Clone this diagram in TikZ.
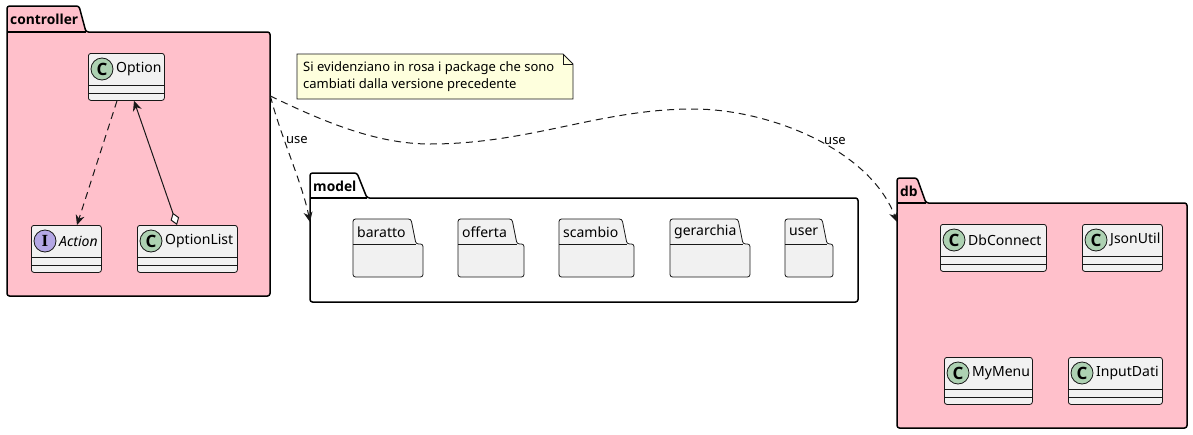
\documentclass[tikz,border=0pt]{standalone}
\usepackage{fontspec}
\setmainfont{Noto Sans}
\newfontfamily\badgeserif{Liberation Serif}
\newfontfamily\boldsans{Open Sans}
\usetikzlibrary{arrows.meta,calc}
\definecolor{pkpink}{HTML}{FFC0CB}
\definecolor{clsfill}{HTML}{F1F1F1}
\definecolor{clsborder}{HTML}{181818}
\definecolor{cgreen}{HTML}{ADD1B2}
\definecolor{ipurple}{HTML}{B4A7E5}
\definecolor{notefill}{HTML}{FEFFDD}
\tikzset{
  cls/.style={draw=clsborder, fill=clsfill, line width=0.8pt, rounded corners=2.5pt, minimum height=47pt, inner sep=0pt, anchor=north west},
  sepline/.style={draw=clsborder, line width=0.8pt},
  cbadge/.style={circle, draw=clsborder, fill=cgreen, line width=0.8pt, minimum size=22pt, inner sep=0pt, font=\fontsize{17}{17}\selectfont\boldsans\bfseries},
  ibadge/.style={circle, draw=clsborder, fill=ipurple, line width=0.8pt, minimum size=22pt, inner sep=0pt, font=\fontsize{17}{17}\selectfont\badgeserif\bfseries},
  clsname/.style={inner sep=0pt, anchor=west, font=\fontsize{14}{16}\selectfont},
  pkgline/.style={draw=black, line width=1.5pt, rounded corners=2.5pt},
  subpkgline/.style={draw=clsborder, fill=clsfill, line width=0.8pt, rounded corners=2.5pt},
  pkgtitle/.style={inner sep=0pt, anchor=west, font=\fontsize{13.8}{15}\selectfont\boldsans\bfseries},
  subtitle/.style={inner sep=0pt, anchor=west, font=\fontsize{14}{16}\selectfont},
  pkgbody/.style={inner sep=0pt, anchor=north west},
  dep/.style={draw=clsborder, line width=1pt, dash pattern=on 7pt off 5pt, -{Stealth[length=10pt,width=9pt]}},
  assoc/.style={draw=clsborder, line width=1pt, {Diamond[length=13pt,width=9pt,fill=white]}-{Stealth[length=10pt,width=9pt]}},
  lbl/.style={inner sep=0pt, font=\fontsize{13}{15}\selectfont},
}
\newcommand\umlclass[7]{%
  \node[cls, minimum width=#4] (#1) at (#2,#3) {};
  \draw[sepline] ([yshift=-32pt]#1.north west) -- ([yshift=-32pt]#1.north east);
  \draw[sepline] ([yshift=-40pt]#1.north west) -- ([yshift=-40pt]#1.north east);
  \node[#5] (#1-badge) at ([xshift=14pt,yshift=-16pt]#1.north west) {#6};
  \node[clsname] (#1-name) at ([xshift=28pt,yshift=-16pt]#1.north west) {#7};
}
\newcommand\subpkg[5]{%
  \draw[subpkgline] (#2,244) -- (#2,219) -- (#4,219) -- ({#4+5},244) -- (#3,244) -- (#3,277) -- (#2,277) -- cycle;
  \draw[sepline] (#2,244) -- ({#4+5},244);
  \node[pkgbody, minimum width={#3-#2}, minimum height=33pt] (#1) at (#2,244) {};
  \node[subtitle] (#1-title) at ({#2+4},232) {#5};
}
\begin{document}
\begin{tikzpicture}[x=1pt,y=-1pt]
\useasboundingbox (0,0) rectangle (1193,434);
% controller package
\draw[pkgline, fill=pkpink] (7,32) -- (7,6) -- (79,6) -- (86,32) -- (270,32) -- (270,296) -- (7,296) -- cycle;
\draw[draw=black, line width=1.5pt] (7,32) -- (86,32);
\node[pkgbody, minimum width=263pt, minimum height=264pt] (controller) at (7,32) {};
\node[pkgtitle] (controller-title) at (10,19) {controller};
% model package
\draw[pkgline, fill=white] (310,198) -- (310,173) -- (357,173) -- (367,198) -- (858,198) -- (858,302) -- (310,302) -- cycle;
\draw[draw=black, line width=1.5pt] (310,198) -- (367,198);
\node[pkgbody, minimum width=548pt, minimum height=104pt] (model) at (310,198) {};
\node[pkgtitle] (model-title) at (313,186) {model};
% db package
\draw[pkgline, fill=pkpink] (897,203) -- (897,178) -- (917,178) -- (926,203) -- (1187,203) -- (1187,428) -- (897,428) -- cycle;
\draw[draw=black, line width=1.5pt] (897,203) -- (926,203);
\node[pkgbody, minimum width=290pt, minimum height=225pt] (db) at (897,203) {};
\node[pkgtitle] (db-title) at (900,191) {db};
% classes
\umlclass{opt}{88}{53}{76}{cbadge}{C}{Option}
\umlclass{act}{31}{225}{70}{ibadge}{I}{\itshape Action}
\umlclass{optl}{137}{225}{100}{cbadge}{C}{OptionList}
\umlclass{dbc}{940}{224}{106}{cbadge}{C}{DbConnect}
\umlclass{json}{1082}{224}{80}{cbadge}{C}{JsonUtil}
\umlclass{mym}{944}{357}{88}{cbadge}{C}{MyMenu}
\umlclass{inp}{1068}{357}{94}{cbadge}{C}{InputDati}
% sub-packages of model
\subpkg{baratto}{353}{423}{411}{baratto}
\subpkg{offerta}{458}{524}{512}{offerta}
\subpkg{scambio}{559}{634}{622}{scambio}
\subpkg{gerarchia}{670}{750}{738}{gerarchia}
\subpkg{user}{785}{833}{822}{user}
% note
\draw[draw=clsborder, fill=notefill, line width=0.8pt] (297,54) -- (563,54) -- (573,64) -- (573,99) -- (297,99) -- cycle;
\draw[draw=clsborder, line width=0.8pt] (563,54) -- (563,64) -- (573,64);
\node[inner sep=0pt, anchor=west, align=left, font=\fontsize{13}{17}\selectfont] (note) at (303,76.5) {Si evidenziano in rosa i package che sono\\cambiati dalla versione precedente};
% connectors
\draw[dep] ([xshift=29pt]opt.south west) -- ([xshift=46pt]act.north west);
\draw[assoc] ([xshift=40pt]optl.north west) -- ([xshift=46pt]opt.south west);
\draw[dep] ([yshift=-64pt]controller.north east) .. controls +(10,40) and +(-8,-40) .. ([yshift=-24pt]model.north west);
\node[lbl, anchor=west] (use1) at (286,140) {use};
\draw[dep] ([yshift=-64pt]controller.north east) .. controls (330,125) and (380,144) .. (430,144) .. controls (530,144) and (600,109) .. (693,109) .. controls (770,109) and (870,150) .. ([yshift=-19pt]db.north west);
\node[lbl] (use2) at (835,141) {use};
\end{tikzpicture}
\end{document}
